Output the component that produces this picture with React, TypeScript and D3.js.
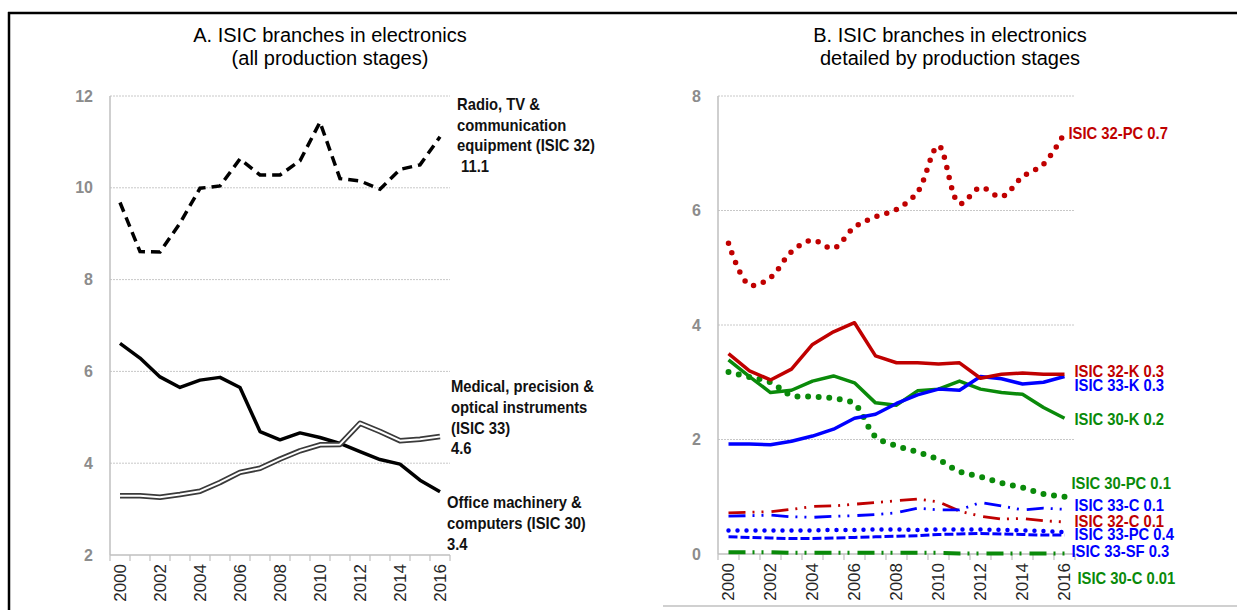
import * as d3 from 'd3';
import React from 'react';

// categories
const years = ['2000', '2001', '2002', '2003', '2004', '2005', '2006', '2007', '2008',
  '2009', '2010', '2011', '2012', '2013', '2014', '2015', '2016'];
const yearLabels = ['2000', '2002', '2004', '2006', '2008', '2010', '2012', '2014', '2016'];
const ticksA = [2, 4, 6, 8, 10, 12];
const ticksB = [0, 2, 4, 6, 8];

// panel A: all production stages
const radioTv = [9.68, 8.61, 8.6, 9.23, 9.99, 10.04, 10.63, 10.28, 10.28, 10.59, 11.43, 10.2, 10.15, 9.97, 10.4, 10.5, 11.11];
const officeMach = [6.61, 6.29, 5.88, 5.65, 5.81, 5.87, 5.65, 4.69, 4.51, 4.66, 4.56, 4.43, 4.25, 4.08, 3.98, 3.63, 3.38];
const medical = [3.29, 3.29, 3.26, 3.32, 3.39, 3.58, 3.8, 3.89, 4.09, 4.27, 4.4, 4.41, 4.87, 4.69, 4.49, 4.52, 4.58];

// panel B: detailed by production stages
const isic32PC = [5.43, 4.7, 4.83, 5.28, 5.48, 5.34, 5.71, 5.89, 6.02, 6.32, 7.13, 6.12, 6.4, 6.24, 6.59, 6.81, 7.35];
const isic30PC = [3.18, 3.09, 3.0, 2.77, 2.75, 2.72, 2.62, 2.05, 1.89, 1.78, 1.65, 1.44, 1.35, 1.24, 1.16, 1.05, 1.0];
const isic32K = [3.5, 3.2, 3.04, 3.23, 3.66, 3.88, 4.04, 3.46, 3.34, 3.34, 3.32, 3.34, 3.07, 3.14, 3.16, 3.14, 3.14];
const isic30K = [3.39, 3.1, 2.82, 2.86, 3.02, 3.11, 2.99, 2.64, 2.6, 2.85, 2.88, 3.02, 2.88, 2.82, 2.79, 2.56, 2.37];
const isic33K = [1.92, 1.92, 1.91, 1.97, 2.06, 2.18, 2.37, 2.44, 2.63, 2.78, 2.88, 2.86, 3.1, 3.06, 2.97, 3.0, 3.1];
const isic32C = [0.72, 0.73, 0.74, 0.78, 0.83, 0.84, 0.87, 0.9, 0.93, 0.96, 0.91, 0.75, 0.66, 0.61, 0.62, 0.58, 0.56];
const isic33C = [0.66, 0.67, 0.68, 0.65, 0.64, 0.66, 0.67, 0.69, 0.72, 0.8, 0.77, 0.77, 0.9, 0.84, 0.77, 0.8, 0.78];
const isic33PC = [0.41, 0.41, 0.41, 0.41, 0.41, 0.42, 0.42, 0.43, 0.43, 0.42, 0.43, 0.43, 0.43, 0.42, 0.41, 0.4, 0.38];
const isic33SF = [0.3, 0.29, 0.28, 0.27, 0.27, 0.28, 0.29, 0.3, 0.31, 0.32, 0.34, 0.35, 0.36, 0.35, 0.34, 0.33, 0.33];
const isic30C = [0.03, 0.03, 0.03, 0.02, 0.02, 0.02, 0.02, 0.02, 0.02, 0.02, 0.02, 0.01, 0.01, 0.01, 0.01, 0.01, 0.01];

const labelsB = ['ISIC 32-PC 0.7', 'ISIC 32-K 0.3', 'ISIC 33-K 0.3', 'ISIC 30-K 0.2', 'ISIC 30-PC 0.1',
  'ISIC 33-C 0.1', 'ISIC 32-C 0.1', 'ISIC 33-PC 0.4', 'ISIC 33-SF 0.3', 'ISIC 30-C 0.01'];
// where each label sits, in data units of panel B
const labelValsB = [7.35, 3.2, 2.95, 2.36, 1.24, 0.86, 0.58, 0.35, 0.05, -0.42];

const RED = '#c00000';
const GREEN = '#0a8a0a';
const BLUE = '#0000ff';

const NARROW = "'Liberation Sans Narrow', 'Arial Narrow', 'Liberation Sans', Arial, sans-serif";
const SANS = "'Liberation Sans', Arial, sans-serif";
const SQUEEZE = 0.87; // no narrow face installed, so squeeze the bold labels

const xA = d3.scaleBand().domain(years).range([110, 450]);
const yA = d3.scaleLinear().domain([2, 12]).range([555, 96]);
const xB = d3.scaleBand().domain(years).range([718, 1075]);
const yB = d3.scaleLinear().domain([0, 8]).range([554, 96]);

const mkLine = (x, y, curve = d3.curveLinear) =>
  d3.line<number>()
    .x((d, i) => x(years[i]) + x.bandwidth() / 2)
    .y((d) => y(d))
    .curve(curve);

const lineA = mkLine(xA, yA);
const lineB = mkLine(xB, yB);
const smoothB = mkLine(xB, yB, d3.curveCatmullRom.alpha(0.5));

const seriesB = [
  { data: isic32PC, color: RED, gen: smoothB, w: 5.5, dash: '0 10.3', cap: 'round' },
  { data: isic32K, color: RED, gen: lineB, w: 3.5 },
  { data: isic33K, color: BLUE, gen: lineB, w: 3.5 },
  { data: isic30K, color: GREEN, gen: lineB, w: 3.5 },
  { data: isic30PC, color: GREEN, gen: smoothB, w: 6, dash: '0 10.6', cap: 'round' },
  { data: isic33C, color: BLUE, gen: lineB, w: 2.8, dash: '17 7 2 7 2 8' },
  { data: isic32C, color: RED, gen: lineB, w: 2.8, dash: '17 7 2 7 2 8' },
  { data: isic33PC, color: BLUE, gen: lineB, w: 4.5, dash: '0 9', cap: 'round' },
  { data: isic33SF, color: BLUE, gen: lineB, w: 3, dash: '9 3' },
  { data: isic30C, color: GREEN, gen: lineB, w: 4, dash: '17 7 2 7 2 8' },
];
const labelDx = [4, 10, 10, 10, 7, 10, 10, 10, 7, 13];

const Axes = ({ x, y, ticks, gridEnd }) => {
  const [x0, x1] = x.range();
  const [yb, yt] = y.range();
  return (
    <g>
      {ticks.filter((t) => y(t) < yb - 1).map((t) => (
        <line key={t} x1={x0} x2={gridEnd} y1={y(t)} y2={y(t)}
          stroke="#c8c8c8" strokeWidth={1} strokeDasharray="2 1" />
      ))}
      <line x1={x0} x2={x0} y1={yt} y2={yb} stroke="#bfbfbf" strokeWidth={1.5} />
      <line x1={x0} x2={x1} y1={yb} y2={yb} stroke="#bfbfbf" strokeWidth={1.5} />
      {ticks.map((t) => (
        <text key={t} x={x0 - 17} y={y(t)} textAnchor="end" dominantBaseline="central"
          fontFamily={NARROW} fontWeight="bold" fontSize={16} fill="#8c8c8c">{t}</text>
      ))}
      {years.concat(['end']).map((yr) => {
        const px = yr === 'end' ? x1 : x(yr);
        return <line key={yr} x1={px} x2={px} y1={yb} y2={yb + 6} stroke="#bfbfbf" strokeWidth={1.2} />;
      })}
      {yearLabels.map((yr) => {
        const cx = x(yr) + x.bandwidth() / 2;
        return (
          <text key={yr} transform={`translate(${cx},${yb + 9}) rotate(-90)`} textAnchor="end"
            dominantBaseline="central" fontFamily={NARROW} fontSize={17} fill="#262626">{yr}</text>
        );
      })}
    </g>
  );
};

const Lines = ({ lines, x, y, size }) => (
  <g transform={`translate(${x},0) scale(${SQUEEZE},1)`}>
    <text x={0} fontFamily={NARROW} fontWeight="bold" fontSize={size} fill="#111">
      {lines.map((l, i) => (
        <tspan key={i} x={0} y={y + i * 20.7} dominantBaseline="central">{l}</tspan>
      ))}
    </text>
  </g>
);

const App = () => {
  const last = years[years.length - 1];
  const endB = xB(last) + xB.bandwidth() / 2;
  return (
    <div style={{ position: 'absolute', left: 0, top: 0 }}>
      <svg width={1237} height={610} style={{ display: 'block', background: '#fff' }}>
        {/* frame */}
        <line x1={8} x2={1237} y1={13} y2={13} stroke="#000" strokeWidth={2.5} />
        <line x1={9} x2={9} y1={12} y2={610} stroke="#000" strokeWidth={2.5} />
        <line x1={663} x2={1237} y1={606} y2={606} stroke="#c0c0c0" strokeWidth={1.5} />

        {/* panel A */}
        <text x={330} fontFamily={SANS} fontSize={20} textAnchor="middle" fill="#000">
          <tspan x={330} y={35} dominantBaseline="central">A. ISIC branches in electronics</tspan>
          <tspan x={330} y={58} dominantBaseline="central">(all production stages)</tspan>
        </text>
        <Axes x={xA} y={yA} ticks={ticksA} gridEnd={450} />
        <path d={lineA(radioTv)} fill="none" stroke="#000" strokeWidth={3.5} strokeDasharray="10 6" />
        <path d={lineA(officeMach)} fill="none" stroke="#000" strokeWidth={3.5} strokeLinejoin="round" />
        <path d={lineA(medical)} fill="none" stroke="#3a3a3a" strokeWidth={5.5} strokeLinejoin="round" />
        <path d={lineA(medical)} fill="none" stroke="#fff" strokeWidth={2} strokeLinejoin="round" />
        <Lines x={457} y={104} size={17}
          lines={['Radio, TV &', 'communication', 'equipment (ISIC 32)', '\u00a011.1']} />
        <Lines x={451} y={386.5} size={17}
          lines={['Medical, precision &', 'optical instruments', '(ISIC 33)', '4.6']} />
        <Lines x={447} y={502.5} size={17}
          lines={['Office machinery &', 'computers (ISIC 30)', '3.4']} />

        {/* panel B */}
        <text x={950} fontFamily={SANS} fontSize={20} textAnchor="middle" fill="#000">
          <tspan x={950} y={35} dominantBaseline="central">B. ISIC branches in electronics</tspan>
          <tspan x={950} y={58} dominantBaseline="central">detailed by production stages</tspan>
        </text>
        <Axes x={xB} y={yB} ticks={ticksB} gridEnd={1075} />
        {seriesB.slice().reverse().map((s, i) => (
          <path key={i} d={s.gen(s.data)} fill="none" stroke={s.color} strokeWidth={s.w}
            strokeDasharray={s.dash} strokeLinecap={s.cap || 'butt'} strokeLinejoin="round" />
        ))}
        {labelsB.map((l, i) => (
          <g key={l} transform={`translate(${endB + labelDx[i]},${yB(labelValsB[i])}) scale(${SQUEEZE},1)`}>
            <text x={0} y={0} dominantBaseline="central"
              fontFamily={NARROW} fontWeight="bold" fontSize={17} fill={seriesB[i].color}>{l}</text>
          </g>
        ))}
      </svg>
    </div>
  );
};

export default App;
